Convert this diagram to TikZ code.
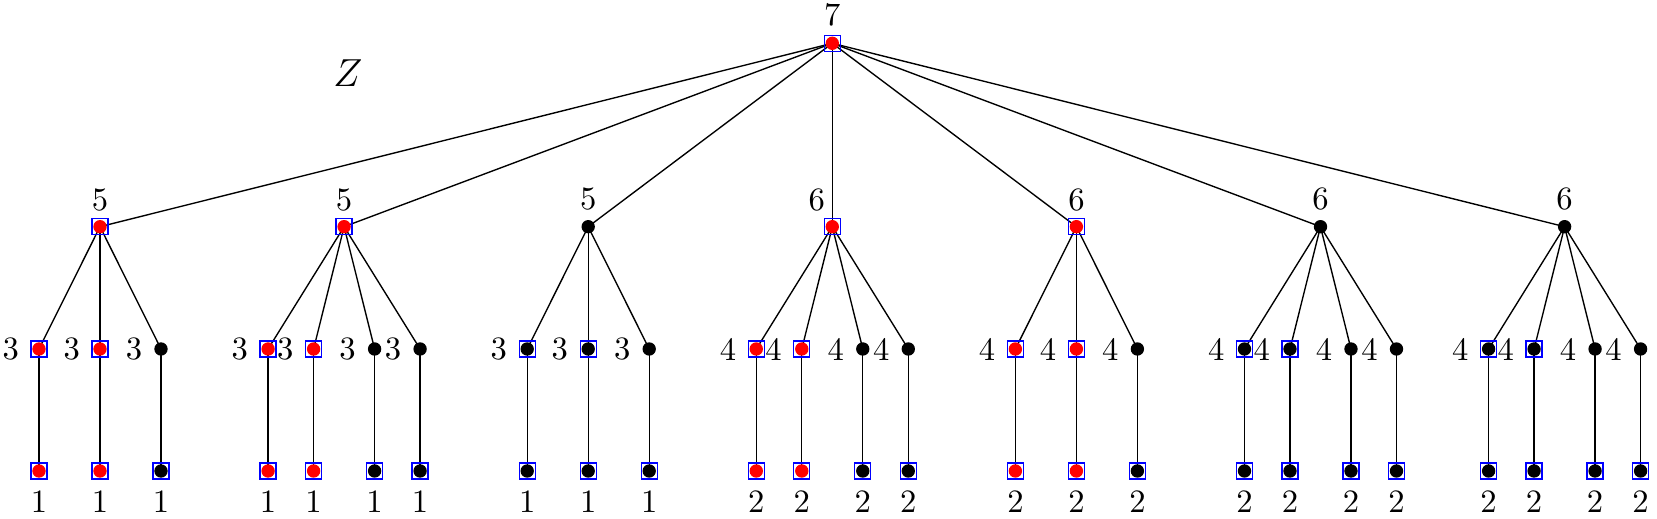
\documentclass[tikz,border=0pt]{standalone}
\usetikzlibrary{backgrounds}
\tikzset{
  rb/.style={draw=blue, line width=0.4pt, minimum size=4.9pt, inner sep=0pt,
    path picture={\fill[red] (path picture bounding box.center) circle (2.05pt);}},
  bb/.style={draw=blue, line width=0.4pt, minimum size=4.9pt, inner sep=0pt,
    path picture={\fill[black] (path picture bounding box.center) circle (2.05pt);}},
  bd/.style={circle, fill=black, minimum size=4.1pt, inner sep=0pt},
  edge/.style={line width=0.42pt, black},
  every label/.style={inner sep=0.3333em},
}
\begin{document}
\begin{tikzpicture}[x=0.3067pt,y=-0.3067pt]
\useasboundingbox (0,0) rectangle (1657,519);
\node (zlab) at (348,73) {\large $Z$};
% root
\node[rb, label={[label distance=-1pt]above:7}] (r) at (832.3,43.3) {};
% level 1
\node[rb, label={[label distance=-1.3pt]above:5}] (g1) at (100,226.7) {};
\node[rb, label={[label distance=-1.3pt]above:5}] (g2) at (344.1,226.7) {};
\node[bd, label={[label distance=-0.8pt]above:5}] (g3) at (588.2,226.7) {};
\node[rb, label={[label distance=-1.3pt,xshift=-4.8pt]above:6}] (g4) at (832.3,226.7) {};
\node[rb, label={[label distance=-1.3pt]above:6}] (g5) at (1076.4,226.7) {};
\node[bd, label={[label distance=-0.8pt]above:6}] (g6) at (1320.5,226.7) {};
\node[bd, label={[label distance=-0.8pt]above:6}] (g7) at (1564.6,226.7) {};
% level 2
\node[rb, label={left:3}] (g1a) at (39,349) {};
\node[rb, label={left:3}] (g1b) at (100,349) {};
\node[bd, label={left:3}] (g1c) at (161,349) {};
\node[rb, label={left:3}] (g2a) at (268.1,349) {};
\node[rb, label={left:3}] (g2b) at (313.6,349) {};
\node[bd, label={left:3}] (g2c) at (374.6,349) {};
\node[bd, label={left:3}] (g2d) at (420.1,349) {};
\node[bb, label={left:3}] (g3a) at (527.2,349) {};
\node[bb, label={left:3}] (g3b) at (588.2,349) {};
\node[bd, label={left:3}] (g3c) at (649.2,349) {};
\node[rb, label={left:4}] (g4a) at (756.3,349) {};
\node[rb, label={left:4}] (g4b) at (801.8,349) {};
\node[bd, label={left:4}] (g4c) at (862.8,349) {};
\node[bd, label={left:4}] (g4d) at (908.3,349) {};
\node[rb, label={left:4}] (g5a) at (1015.4,349) {};
\node[rb, label={left:4}] (g5b) at (1076.4,349) {};
\node[bd, label={left:4}] (g5c) at (1137.4,349) {};
\node[bb, label={left:4}] (g6a) at (1244.5,349) {};
\node[bb, label={left:4}] (g6b) at (1290,349) {};
\node[bd, label={left:4}] (g6c) at (1351,349) {};
\node[bd, label={left:4}] (g6d) at (1396.5,349) {};
\node[bb, label={left:4}] (g7a) at (1488.6,349) {};
\node[bb, label={left:4}] (g7b) at (1534.1,349) {};
\node[bd, label={left:4}] (g7c) at (1595.1,349) {};
\node[bd, label={left:4}] (g7d) at (1640.6,349) {};
% level 3 (leaves)
\node[rb, label={below:1}] (g1aL) at (39,471) {};
\node[rb, label={below:1}] (g1bL) at (100,471) {};
\node[bb, label={below:1}] (g1cL) at (161,471) {};
\node[rb, label={below:1}] (g2aL) at (268.1,471) {};
\node[rb, label={below:1}] (g2bL) at (313.6,471) {};
\node[bb, label={below:1}] (g2cL) at (374.6,471) {};
\node[bb, label={below:1}] (g2dL) at (420.1,471) {};
\node[bb, label={below:1}] (g3aL) at (527.2,471) {};
\node[bb, label={below:1}] (g3bL) at (588.2,471) {};
\node[bb, label={below:1}] (g3cL) at (649.2,471) {};
\node[rb, label={below:2}] (g4aL) at (756.3,471) {};
\node[rb, label={below:2}] (g4bL) at (801.8,471) {};
\node[bb, label={below:2}] (g4cL) at (862.8,471) {};
\node[bb, label={below:2}] (g4dL) at (908.3,471) {};
\node[rb, label={below:2}] (g5aL) at (1015.4,471) {};
\node[rb, label={below:2}] (g5bL) at (1076.4,471) {};
\node[bb, label={below:2}] (g5cL) at (1137.4,471) {};
\node[bb, label={below:2}] (g6aL) at (1244.5,471) {};
\node[bb, label={below:2}] (g6bL) at (1290,471) {};
\node[bb, label={below:2}] (g6cL) at (1351,471) {};
\node[bb, label={below:2}] (g6dL) at (1396.5,471) {};
\node[bb, label={below:2}] (g7aL) at (1488.6,471) {};
\node[bb, label={below:2}] (g7bL) at (1534.1,471) {};
\node[bb, label={below:2}] (g7cL) at (1595.1,471) {};
\node[bb, label={below:2}] (g7dL) at (1640.6,471) {};
\begin{pgfonlayer}{background}
\foreach \g in {g1,g2,g3,g4,g5,g6,g7}
  \draw[edge] (r.center) -- (\g.center);
\foreach \g in {g1,g3,g5}
  \foreach \k in {a,b,c} {
    \draw[edge] (\g.center) -- (\g\k.center);
    \draw[edge] (\g\k.center) -- (\g\k L.center);
  }
\foreach \g in {g2,g4,g6,g7}
  \foreach \k in {a,b,c,d} {
    \draw[edge] (\g.center) -- (\g\k.center);
    \draw[edge] (\g\k.center) -- (\g\k L.center);
  }
\end{pgfonlayer}
\end{tikzpicture}
\end{document}
